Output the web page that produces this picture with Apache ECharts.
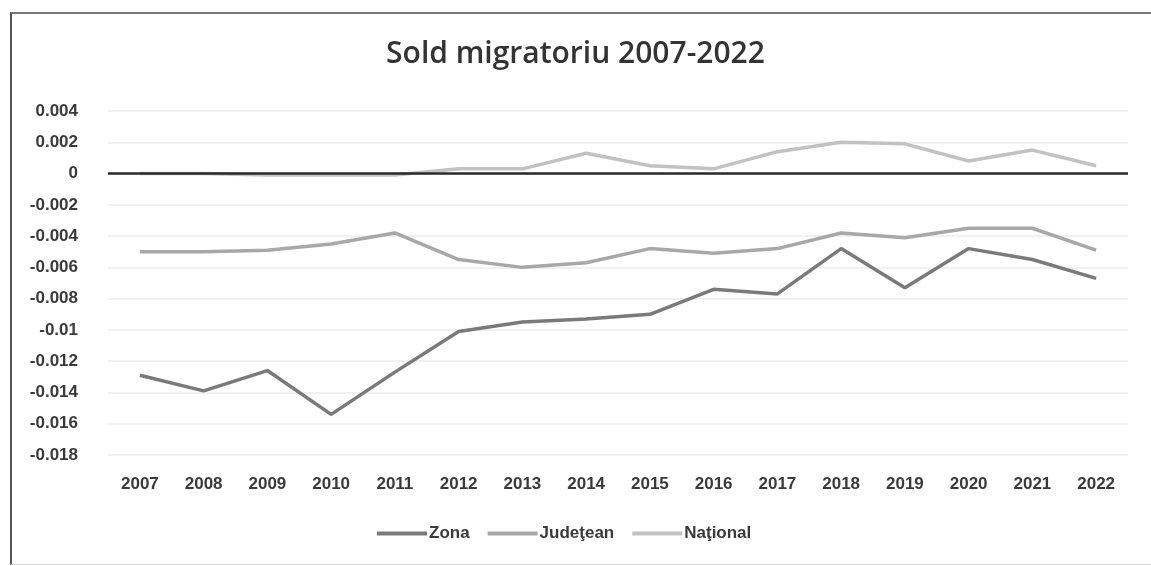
<!DOCTYPE html>
<html>
<head>
    <meta charset="utf-8">
    <title>Sold migratoriu</title>
    <script src="https://cdn.jsdelivr.net/npm/echarts@6/dist/echarts.min.js"></script>
    <style>
        body { margin: 0; background: #fff; }
        #frame {
            position: absolute; left: 10px; top: 12px; width: 1141px; height: 550px;
            border-left: 2px solid #555; border-top: 2px solid #777; border-bottom: 1px solid #ddd;
        }
        #main { position: absolute; left: 0; top: 0; width: 1151px; height: 566px; }
    </style>
</head>
<body>
<div id="frame"></div>
<div id="main"></div>
<script type="text/javascript">
    // date
    var years = ['2007', '2008', '2009', '2010', '2011', '2012', '2013', '2014',
        '2015', '2016', '2017', '2018', '2019', '2020', '2021', '2022'];
    var zona = [-0.0129, -0.0139, -0.0126, -0.0154, -0.0127, -0.0101, -0.0095, -0.0093,
        -0.0090, -0.0074, -0.0077, -0.0048, -0.0073, -0.0048, -0.0055, -0.0067];
    var judetean = [-0.0050, -0.0050, -0.0049, -0.0045, -0.0038, -0.0055, -0.0060, -0.0057,
        -0.0048, -0.0051, -0.0048, -0.0038, -0.0041, -0.0035, -0.0035, -0.0049];
    var national = [0.0000, 0.0000, -0.0001, -0.0001, -0.0001, 0.0003, 0.0003, 0.0013,
        0.0005, 0.0003, 0.0014, 0.0020, 0.0019, 0.0008, 0.0015, 0.0005];

    var myChart = echarts.init(document.getElementById('main'));

    var labelFont = {
        color: '#3a3a3a',
        fontFamily: 'Liberation Sans',
        fontWeight: 'bold',
        fontSize: 17
    };

    option = {
        title: {
            text: 'Sold migratoriu 2007-2022',
            left: 'center',
            top: 34,
            textStyle: {
                color: '#333',
                fontFamily: 'Open Sans',
                fontWeight: 600,
                fontSize: 30
            }
        },
        legend: {
            bottom: 19,
            left: 372,
            icon: 'rect',
            itemWidth: 50,
            itemHeight: 4,
            itemGap: 18,
            itemStyle: { borderWidth: 0 },
            textStyle: Object.assign({ padding: [0, 0, 0, -3] }, labelFont),
            data: ['Zona', 'Judeţean', 'Naţional']
        },
        grid: {
            left: 108,
            right: 23,
            top: 111,
            bottom: 111
        },
        xAxis: {
            type: 'category',
            data: years,
            boundaryGap: true,
            axisLine: { show: false },
            axisTick: { show: false },
            axisLabel: Object.assign({ margin: 21 }, labelFont)
        },
        yAxis: {
            type: 'value',
            min: -0.018,
            max: 0.004,
            interval: 0.002,
            axisLine: { show: false },
            axisTick: { show: false },
            splitLine: { lineStyle: { color: '#ececec', width: 1.5 } },
            axisLabel: Object.assign({
                margin: 30,
                formatter: function (v) { return String(Number(v.toFixed(3))); }
            }, labelFont)
        },
        series: [
            {
                name: 'Zona',
                type: 'line',
                data: zona,
                showSymbol: false,
                color: '#7a7a7a',
                lineStyle: { width: 3.5, color: '#7a7a7a' }
            },
            {
                name: 'Judeţean',
                type: 'line',
                data: judetean,
                showSymbol: false,
                color: '#a8a8a8',
                lineStyle: { width: 3.5, color: '#a8a8a8' }
            },
            {
                name: 'Naţional',
                type: 'line',
                data: national,
                showSymbol: false,
                color: '#c2c2c2',
                lineStyle: { width: 3.5, color: '#c2c2c2' },
                markLine: {
                    silent: true,
                    symbol: 'none',
                    label: { show: false },
                    lineStyle: { color: '#2a2a2a', width: 2.5, type: 'solid' },
                    data: [{ yAxis: 0 }]
                }
            }
        ]
    };

    myChart.setOption(option);
</script>
</body>
</html>
